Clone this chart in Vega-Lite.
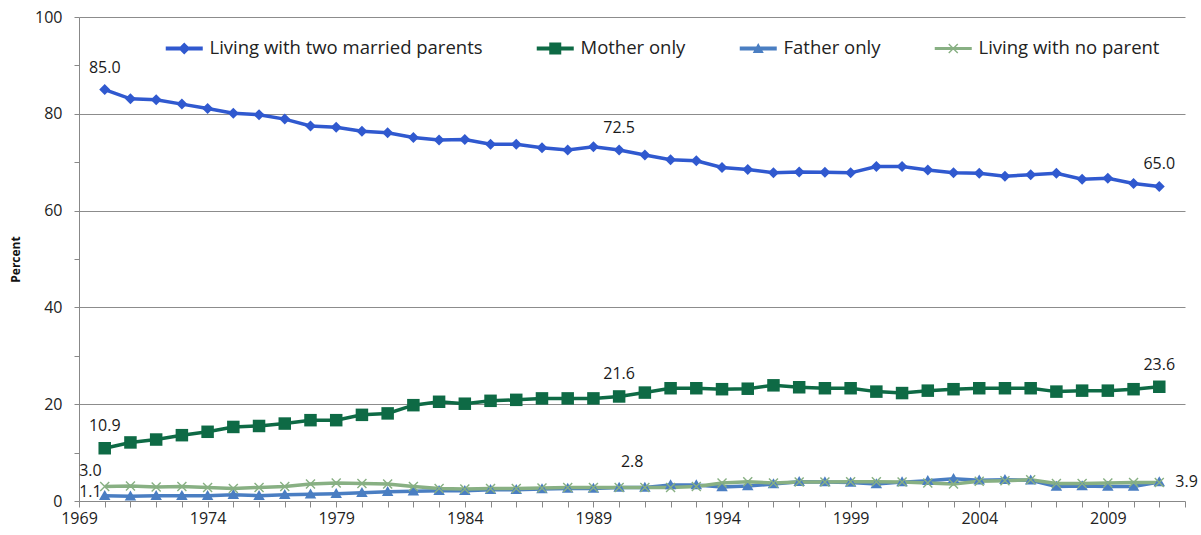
{
  "$schema": "https://vega.github.io/schema/vega-lite/v6.json",
  "width": 1106,
  "height": 484,
  "autosize": "none",
  "padding": {"left": 79, "top": 17, "right": 16, "bottom": 34},
  "background": "white",
  "config": {"view": {"stroke": null}, "font": "Open Sans"},
  "data": {
    "values": [
      {"year": 1970, "married": 85.0, "mother": 10.9, "father": 1.1, "none": 3.0},
      {"year": 1971, "married": 83.1, "mother": 12.1, "father": 1.0, "none": 3.1},
      {"year": 1972, "married": 82.9, "mother": 12.7, "father": 1.1, "none": 2.9},
      {"year": 1973, "married": 82.0, "mother": 13.6, "father": 1.1, "none": 3.0},
      {"year": 1974, "married": 81.1, "mother": 14.3, "father": 1.1, "none": 2.8},
      {"year": 1975, "married": 80.1, "mother": 15.3, "father": 1.3, "none": 2.6},
      {"year": 1976, "married": 79.8, "mother": 15.5, "father": 1.1, "none": 2.8},
      {"year": 1977, "married": 78.9, "mother": 16.0, "father": 1.3, "none": 3.0},
      {"year": 1978, "married": 77.5, "mother": 16.7, "father": 1.4, "none": 3.5},
      {"year": 1979, "married": 77.2, "mother": 16.7, "father": 1.5, "none": 3.7},
      {"year": 1980, "married": 76.4, "mother": 17.8, "father": 1.7, "none": 3.6},
      {"year": 1981, "married": 76.1, "mother": 18.1, "father": 1.9, "none": 3.5},
      {"year": 1982, "married": 75.1, "mother": 19.8, "father": 2.0, "none": 3.0},
      {"year": 1983, "married": 74.6, "mother": 20.5, "father": 2.1, "none": 2.6},
      {"year": 1984, "married": 74.7, "mother": 20.1, "father": 2.1, "none": 2.5},
      {"year": 1985, "married": 73.7, "mother": 20.7, "father": 2.3, "none": 2.6},
      {"year": 1986, "married": 73.7, "mother": 20.9, "father": 2.3, "none": 2.6},
      {"year": 1987, "married": 73.0, "mother": 21.2, "father": 2.5, "none": 2.7},
      {"year": 1988, "married": 72.5, "mother": 21.2, "father": 2.6, "none": 2.8},
      {"year": 1989, "married": 73.2, "mother": 21.2, "father": 2.6, "none": 2.8},
      {"year": 1990, "married": 72.5, "mother": 21.6, "father": 2.8, "none": 2.8},
      {"year": 1991, "married": 71.5, "mother": 22.4, "father": 2.8, "none": 2.8},
      {"year": 1992, "married": 70.5, "mother": 23.3, "father": 3.3, "none": 2.8},
      {"year": 1993, "married": 70.3, "mother": 23.3, "father": 3.3, "none": 3.0},
      {"year": 1994, "married": 68.9, "mother": 23.1, "father": 2.9, "none": 3.7},
      {"year": 1995, "married": 68.5, "mother": 23.2, "father": 3.1, "none": 4.0},
      {"year": 1996, "married": 67.8, "mother": 23.9, "father": 3.5, "none": 3.7},
      {"year": 1997, "married": 68.0, "mother": 23.5, "father": 4.0, "none": 3.9},
      {"year": 1998, "married": 67.9, "mother": 23.3, "father": 3.9, "none": 3.9},
      {"year": 1999, "married": 67.8, "mother": 23.3, "father": 3.8, "none": 4.0},
      {"year": 2000, "married": 69.1, "mother": 22.6, "father": 3.5, "none": 4.0},
      {"year": 2001, "married": 69.1, "mother": 22.3, "father": 3.9, "none": 3.9},
      {"year": 2002, "married": 68.4, "mother": 22.8, "father": 4.2, "none": 3.7},
      {"year": 2003, "married": 67.8, "mother": 23.1, "father": 4.6, "none": 3.5},
      {"year": 2004, "married": 67.7, "mother": 23.3, "father": 4.3, "none": 4.1},
      {"year": 2005, "married": 67.1, "mother": 23.3, "father": 4.4, "none": 4.2},
      {"year": 2006, "married": 67.4, "mother": 23.3, "father": 4.3, "none": 4.4},
      {"year": 2007, "married": 67.7, "mother": 22.6, "father": 3.0, "none": 3.6},
      {"year": 2008, "married": 66.5, "mother": 22.8, "father": 3.1, "none": 3.6},
      {"year": 2009, "married": 66.7, "mother": 22.8, "father": 3.0, "none": 3.7},
      {"year": 2010, "married": 65.6, "mother": 23.1, "father": 3.0, "none": 3.8},
      {"year": 2011, "married": 65.0, "mother": 23.6, "father": 3.9, "none": 3.8}
    ]
  },
  "transform": [{"fold": ["married", "mother", "father", "none"], "as": ["series", "value"]}],
  "encoding": {
    "x": {
      "field": "year",
      "type": "quantitative",
      "scale": {"domain": [1969, 2012], "nice": false, "zero": false},
      "title": null,
      "axis": {
        "values": [1969,1970,1971,1972,1973,1974,1975,1976,1977,1978,1979,1980,1981,1982,1983,1984,1985,1986,1987,1988,1989,1990,1991,1992,1993,1994,1995,1996,1997,1998,1999,2000,2001,2002,2003,2004,2005,2006,2007,2008,2009,2010,2011,2012],
        "format": "d",
        "labelExpr": "(datum.value - 1969) % 5 === 0 ? datum.label : ''",
        "labelOverlap": false,
        "labelFlush": false,
        "labelFontSize": 16,
        "labelColor": "#222222",
        "labelPadding": 3,
        "tickSize": 6,
        "tickColor": "#888888",
        "domainColor": "#888888",
        "grid": false
      }
    },
    "y": {
      "field": "value",
      "type": "quantitative",
      "scale": {"domain": [0, 100], "nice": false},
      "title": "Percent",
      "axis": {
        "values": [0,10,20,30,40,50,60,70,80,90,100],
        "labelExpr": "datum.value % 20 === 0 ? datum.label : ''",
        "labelOverlap": false,
        "labelFontSize": 16,
        "labelColor": "#222222",
        "labelPadding": 12,
        "tickSize": 5,
        "tickColor": "#888888",
        "domainColor": "#888888",
        "grid": true,
        "gridColor": "#8c8c8c",
        "gridOpacity": {"condition": {"test": "datum.value % 20 === 0 && datum.value > 0", "value": 1}, "value": 0},
        "titleFontSize": 12,
        "titleFontWeight": "bold",
        "titleColor": "#111111",
        "titlePadding": 12
      }
    },
    "color": {
      "field": "series",
      "type": "nominal",
      "scale": {
        "domain": ["married", "mother", "father", "none"],
        "range": ["#3059CF", "#0E6A45", "#4A7EC2", "#88B083"]
      },
      "legend": {
        "title": null,
        "orient": "none",
        "legendX": 96,
        "legendY": 22,
        "direction": "horizontal",
        "columns": 4,
        "columnPadding": 53,
        "padding": 0,
        "symbolSize": 100,
        "labelOffset": 16,
        "labelFontSize": 18.5,
        "labelColor": "#222222",
        "labelLimit": 0,
        "labelExpr": "datum.value === 'married' ? 'Living with two married parents' : datum.value === 'mother' ? 'Mother only' : datum.value === 'father' ? 'Father only' : 'Living with no parent'",
        "encode": {
          "symbols": {
            "update": {
              "shape": {"signal": "datum.value === 'married' ? 'M-3.7,-0.4H3.7V0.4H-3.7Z M0,-1.2L1.2,0L0,1.2L-1.2,0Z' : datum.value === 'mother' ? 'M-3.7,-0.4H3.7V0.4H-3.7Z M-1.2,-1.2H1.2V1.2H-1.2Z' : datum.value === 'father' ? 'M-3.7,-0.4H3.7V0.4H-3.7Z M0,-1.1L1.1,0.9H-1.1Z' : 'M-3.7,-0.3H3.7V0.3H-3.7Z M-1,-0.8L-0.8,-1L1,0.8L0.8,1Z M0.8,-1L1,-0.8L-0.8,1L-1,0.8Z'"},
              "fill": {"scale": "color", "field": "value"},
              "stroke": {"value": "transparent"},
              "strokeWidth": {"value": 0},
              "opacity": {"value": 1}
            }
          }
        }
      }
    }
  },
  "layer": [
    {
      "mark": {"type": "line", "strokeWidth": 3.5}
    },
    {
      "transform": [{"filter": "datum.series === 'married'"}],
      "mark": {"type": "point", "filled": true, "size": 100, "opacity": 1, "strokeWidth": 0, "shape": "M0,-1.1L1.1,0L0,1.1L-1.1,0Z"}
    },
    {
      "transform": [{"filter": "datum.series === 'mother'"}],
      "mark": {"type": "point", "filled": true, "size": 100, "opacity": 1, "strokeWidth": 0, "shape": "M-1.25,-1.25H1.25V1.25H-1.25Z"}
    },
    {
      "transform": [{"filter": "datum.series === 'father'"}],
      "mark": {"type": "point", "filled": true, "size": 100, "opacity": 1, "strokeWidth": 0, "shape": "M0,-1.15L1.15,0.85H-1.15Z"}
    },
    {
      "transform": [{"filter": "datum.series === 'none'"}],
      "mark": {"type": "point", "filled": true, "size": 100, "opacity": 1, "strokeWidth": 0, "shape": "M-1,-0.8L-0.8,-1L1,0.8L0.8,1Z M0.8,-1L1,-0.8L-0.8,1L-1,0.8Z"}
    },
    {
      "transform": [{"filter": "(datum.series === 'married' || datum.series === 'mother') && (datum.year === 1970 || datum.year === 1990 || datum.year === 2011)"}],
      "mark": {"type": "text", "dy": -22, "fontSize": 16},
      "encoding": {"text": {"field": "value", "type": "quantitative", "format": ".1f"}, "color": {"value": "#1a1a1a"}}
    },
    {
      "transform": [{"filter": "datum.series === 'father' && datum.year === 1970"}],
      "mark": {"type": "text", "align": "right", "dx": -3, "dy": -4, "fontSize": 16},
      "encoding": {"text": {"field": "value", "type": "quantitative", "format": ".1f"}, "color": {"value": "#1a1a1a"}}
    },
    {
      "transform": [{"filter": "datum.series === 'none' && datum.year === 1970"}],
      "mark": {"type": "text", "align": "right", "dx": -3, "dy": -15, "fontSize": 16},
      "encoding": {"text": {"field": "value", "type": "quantitative", "format": ".1f"}, "color": {"value": "#1a1a1a"}}
    },
    {
      "transform": [{"filter": "datum.series === 'none' && datum.year === 1990"}],
      "mark": {"type": "text", "dx": 13, "dy": -25, "fontSize": 16},
      "encoding": {"text": {"field": "value", "type": "quantitative", "format": ".1f"}, "color": {"value": "#1a1a1a"}}
    },
    {
      "transform": [{"filter": "datum.series === 'father' && datum.year === 2011"}],
      "mark": {"type": "text", "align": "left", "dx": 16, "dy": 0, "fontSize": 16},
      "encoding": {"text": {"field": "value", "type": "quantitative", "format": ".1f"}, "color": {"value": "#1a1a1a"}}
    }
  ]
}
